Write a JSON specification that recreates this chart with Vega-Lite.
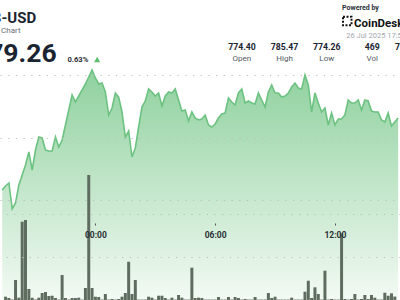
{
  "$schema": "https://vega.github.io/schema/vega-lite/v6.json",
  "width": 400,
  "height": 300,
  "autosize": {"type": "none"},
  "padding": 0,
  "background": "#ffffff",
  "config": {"view": {"stroke": null}, "text": {"font": "Roboto"}},
  "datasets": {
    "price": [
      {"t": "2025-07-25T19:20Z", "p": 775.80}, {"t": "2025-07-25T19:30Z", "p": 776.12}, {"t": "2025-07-25T19:40Z", "p": 776.36}, {"t": "2025-07-25T19:50Z", "p": 774.30},
      {"t": "2025-07-25T20:00Z", "p": 774.76}, {"t": "2025-07-25T20:10Z", "p": 776.20}, {"t": "2025-07-25T20:20Z", "p": 777.00}, {"t": "2025-07-25T20:30Z", "p": 777.80},
      {"t": "2025-07-25T20:40Z", "p": 778.84}, {"t": "2025-07-25T20:50Z", "p": 777.40}, {"t": "2025-07-25T21:00Z", "p": 779.00}, {"t": "2025-07-25T21:10Z", "p": 780.04},
      {"t": "2025-07-25T21:20Z", "p": 779.96}, {"t": "2025-07-25T21:30Z", "p": 779.00}, {"t": "2025-07-25T21:40Z", "p": 778.92}, {"t": "2025-07-25T21:50Z", "p": 778.92},
      {"t": "2025-07-25T22:00Z", "p": 780.04}, {"t": "2025-07-25T22:10Z", "p": 779.24}, {"t": "2025-07-25T22:20Z", "p": 779.80}, {"t": "2025-07-25T22:30Z", "p": 781.00},
      {"t": "2025-07-25T22:40Z", "p": 782.20}, {"t": "2025-07-25T22:50Z", "p": 783.40}, {"t": "2025-07-25T23:00Z", "p": 782.84}, {"t": "2025-07-25T23:10Z", "p": 783.32},
      {"t": "2025-07-25T23:20Z", "p": 783.80}, {"t": "2025-07-25T23:30Z", "p": 784.28}, {"t": "2025-07-25T23:40Z", "p": 784.84}, {"t": "2025-07-25T23:50Z", "p": 785.40},
      {"t": "2025-07-26T00:00Z", "p": 784.76}, {"t": "2025-07-26T00:10Z", "p": 784.28}, {"t": "2025-07-26T00:20Z", "p": 784.36}, {"t": "2025-07-26T00:30Z", "p": 783.64},
      {"t": "2025-07-26T00:40Z", "p": 781.80}, {"t": "2025-07-26T00:50Z", "p": 782.36}, {"t": "2025-07-26T01:00Z", "p": 783.56}, {"t": "2025-07-26T01:10Z", "p": 783.24},
      {"t": "2025-07-26T01:20Z", "p": 782.04}, {"t": "2025-07-26T01:30Z", "p": 780.04}, {"t": "2025-07-26T01:40Z", "p": 780.52}, {"t": "2025-07-26T01:50Z", "p": 778.44},
      {"t": "2025-07-26T02:00Z", "p": 779.16}, {"t": "2025-07-26T02:10Z", "p": 780.84}, {"t": "2025-07-26T02:20Z", "p": 782.44}, {"t": "2025-07-26T02:30Z", "p": 782.92},
      {"t": "2025-07-26T02:40Z", "p": 783.88}, {"t": "2025-07-26T02:50Z", "p": 783.64}, {"t": "2025-07-26T03:00Z", "p": 783.32}, {"t": "2025-07-26T03:10Z", "p": 783.56},
      {"t": "2025-07-26T03:20Z", "p": 782.52}, {"t": "2025-07-26T03:30Z", "p": 783.32}, {"t": "2025-07-26T03:40Z", "p": 783.64}, {"t": "2025-07-26T03:50Z", "p": 783.56},
      {"t": "2025-07-26T04:00Z", "p": 783.88}, {"t": "2025-07-26T04:10Z", "p": 783.00}, {"t": "2025-07-26T04:20Z", "p": 782.12}, {"t": "2025-07-26T04:30Z", "p": 782.20},
      {"t": "2025-07-26T04:40Z", "p": 781.32}, {"t": "2025-07-26T04:50Z", "p": 782.04}, {"t": "2025-07-26T05:00Z", "p": 781.56}, {"t": "2025-07-26T05:10Z", "p": 781.40},
      {"t": "2025-07-26T05:20Z", "p": 781.48}, {"t": "2025-07-26T05:30Z", "p": 781.80}, {"t": "2025-07-26T05:40Z", "p": 781.00}, {"t": "2025-07-26T05:50Z", "p": 780.84},
      {"t": "2025-07-26T06:00Z", "p": 781.08}, {"t": "2025-07-26T06:10Z", "p": 781.56}, {"t": "2025-07-26T06:20Z", "p": 781.88}, {"t": "2025-07-26T06:30Z", "p": 781.96},
      {"t": "2025-07-26T06:40Z", "p": 783.16}, {"t": "2025-07-26T06:50Z", "p": 782.84}, {"t": "2025-07-26T07:00Z", "p": 782.60}, {"t": "2025-07-26T07:10Z", "p": 783.56},
      {"t": "2025-07-26T07:20Z", "p": 783.88}, {"t": "2025-07-26T07:30Z", "p": 782.76}, {"t": "2025-07-26T07:40Z", "p": 782.92}, {"t": "2025-07-26T07:50Z", "p": 782.76},
      {"t": "2025-07-26T08:00Z", "p": 782.68}, {"t": "2025-07-26T08:10Z", "p": 783.56}, {"t": "2025-07-26T08:20Z", "p": 783.00}, {"t": "2025-07-26T08:30Z", "p": 782.44},
      {"t": "2025-07-26T08:40Z", "p": 783.64}, {"t": "2025-07-26T08:50Z", "p": 784.20}, {"t": "2025-07-26T09:00Z", "p": 783.56}, {"t": "2025-07-26T09:10Z", "p": 783.56},
      {"t": "2025-07-26T09:20Z", "p": 783.24}, {"t": "2025-07-26T09:30Z", "p": 783.32}, {"t": "2025-07-26T09:40Z", "p": 783.56}, {"t": "2025-07-26T09:50Z", "p": 784.04},
      {"t": "2025-07-26T10:00Z", "p": 784.36}, {"t": "2025-07-26T10:10Z", "p": 783.96}, {"t": "2025-07-26T10:20Z", "p": 783.88}, {"t": "2025-07-26T10:30Z", "p": 785.00},
      {"t": "2025-07-26T10:40Z", "p": 784.20}, {"t": "2025-07-26T10:50Z", "p": 782.04}, {"t": "2025-07-26T11:00Z", "p": 783.56}, {"t": "2025-07-26T11:10Z", "p": 782.76},
      {"t": "2025-07-26T11:20Z", "p": 782.04}, {"t": "2025-07-26T11:30Z", "p": 782.36}, {"t": "2025-07-26T11:40Z", "p": 781.00}, {"t": "2025-07-26T11:50Z", "p": 781.96},
      {"t": "2025-07-26T12:00Z", "p": 781.00}, {"t": "2025-07-26T12:10Z", "p": 781.48}, {"t": "2025-07-26T12:20Z", "p": 781.48}, {"t": "2025-07-26T12:30Z", "p": 781.80},
      {"t": "2025-07-26T12:40Z", "p": 783.00}, {"t": "2025-07-26T12:50Z", "p": 782.76}, {"t": "2025-07-26T13:00Z", "p": 782.76}, {"t": "2025-07-26T13:10Z", "p": 783.00},
      {"t": "2025-07-26T13:20Z", "p": 782.20}, {"t": "2025-07-26T13:30Z", "p": 783.00}, {"t": "2025-07-26T13:40Z", "p": 782.92}, {"t": "2025-07-26T13:50Z", "p": 782.12},
      {"t": "2025-07-26T14:00Z", "p": 782.04}, {"t": "2025-07-26T14:10Z", "p": 782.04}, {"t": "2025-07-26T14:20Z", "p": 781.40}, {"t": "2025-07-26T14:30Z", "p": 781.24},
      {"t": "2025-07-26T14:40Z", "p": 781.96}, {"t": "2025-07-26T14:50Z", "p": 780.92}, {"t": "2025-07-26T15:00Z", "p": 781.24}, {"t": "2025-07-26T15:10Z", "p": 781.56}
    ],
    "vol": [
      {"t": "2025-07-25T19:30Z", "v": 0.77}, {"t": "2025-07-25T19:40Z", "v": 0.47}, {"t": "2025-07-25T19:50Z", "v": 0.1}, {"t": "2025-07-25T20:00Z", "v": 4.67},
      {"t": "2025-07-25T20:10Z", "v": 0.54}, {"t": "2025-07-25T20:20Z", "v": 18.27}, {"t": "2025-07-25T20:30Z", "v": 18.67}, {"t": "2025-07-25T20:40Z", "v": 2.57},
      {"t": "2025-07-25T20:50Z", "v": 0.54}, {"t": "2025-07-25T21:00Z", "v": 0.1}, {"t": "2025-07-25T21:10Z", "v": 0.54}, {"t": "2025-07-25T21:20Z", "v": 1.63},
      {"t": "2025-07-25T21:30Z", "v": 1.87}, {"t": "2025-07-25T21:40Z", "v": 0.93}, {"t": "2025-07-25T21:50Z", "v": 1.0}, {"t": "2025-07-25T22:00Z", "v": 0.47},
      {"t": "2025-07-25T22:10Z", "v": 0.1}, {"t": "2025-07-25T22:20Z", "v": 5.83}, {"t": "2025-07-25T22:30Z", "v": 0.47}, {"t": "2025-07-25T22:40Z", "v": 0.1},
      {"t": "2025-07-25T22:50Z", "v": 0.47}, {"t": "2025-07-25T23:00Z", "v": 0.47}, {"t": "2025-07-25T23:10Z", "v": 0.54}, {"t": "2025-07-25T23:20Z", "v": 0.1},
      {"t": "2025-07-25T23:30Z", "v": 2.8}, {"t": "2025-07-25T23:40Z", "v": 29.17}, {"t": "2025-07-25T23:50Z", "v": 2.8}, {"t": "2025-07-26T00:00Z", "v": 0.77},
      {"t": "2025-07-26T00:10Z", "v": 0.7}, {"t": "2025-07-26T00:20Z", "v": 0.1}, {"t": "2025-07-26T00:30Z", "v": 1.4}, {"t": "2025-07-26T00:40Z", "v": 0.1},
      {"t": "2025-07-26T00:50Z", "v": 0.23}, {"t": "2025-07-26T01:00Z", "v": 0.1}, {"t": "2025-07-26T01:10Z", "v": 0.23}, {"t": "2025-07-26T01:20Z", "v": 0.77},
      {"t": "2025-07-26T01:30Z", "v": 1.63}, {"t": "2025-07-26T01:40Z", "v": 8.94}, {"t": "2025-07-26T01:50Z", "v": 1.4}, {"t": "2025-07-26T02:00Z", "v": 4.67},
      {"t": "2025-07-26T02:10Z", "v": 0.1}, {"t": "2025-07-26T02:20Z", "v": 0.1}, {"t": "2025-07-26T02:30Z", "v": 0.1}, {"t": "2025-07-26T02:40Z", "v": 0.77},
      {"t": "2025-07-26T02:50Z", "v": 0.54}, {"t": "2025-07-26T03:00Z", "v": 0.1}, {"t": "2025-07-26T03:10Z", "v": 1.0}, {"t": "2025-07-26T03:20Z", "v": 1.0},
      {"t": "2025-07-26T03:30Z", "v": 0.47}, {"t": "2025-07-26T03:40Z", "v": 0.1}, {"t": "2025-07-26T03:50Z", "v": 0.54}, {"t": "2025-07-26T04:00Z", "v": 0.1},
      {"t": "2025-07-26T04:10Z", "v": 1.17}, {"t": "2025-07-26T04:20Z", "v": 0.54}, {"t": "2025-07-26T04:30Z", "v": 0.1}, {"t": "2025-07-26T04:40Z", "v": 0.1},
      {"t": "2025-07-26T04:50Z", "v": 7.54}, {"t": "2025-07-26T05:00Z", "v": 0.47}, {"t": "2025-07-26T05:10Z", "v": 0.54}, {"t": "2025-07-26T05:20Z", "v": 0.47},
      {"t": "2025-07-26T05:30Z", "v": 0.1}, {"t": "2025-07-26T05:40Z", "v": 0.1}, {"t": "2025-07-26T05:50Z", "v": 0.1}, {"t": "2025-07-26T06:00Z", "v": 0.1},
      {"t": "2025-07-26T06:10Z", "v": 0.7}, {"t": "2025-07-26T06:20Z", "v": 0.1}, {"t": "2025-07-26T06:30Z", "v": 0.1}, {"t": "2025-07-26T06:40Z", "v": 0.7},
      {"t": "2025-07-26T06:50Z", "v": 0.1}, {"t": "2025-07-26T07:00Z", "v": 0.7}, {"t": "2025-07-26T07:10Z", "v": 0.47}, {"t": "2025-07-26T07:20Z", "v": 0.1},
      {"t": "2025-07-26T07:30Z", "v": 0.23}, {"t": "2025-07-26T07:40Z", "v": 0.1}, {"t": "2025-07-26T07:50Z", "v": 0.1}, {"t": "2025-07-26T08:00Z", "v": 0.7},
      {"t": "2025-07-26T08:10Z", "v": 0.1}, {"t": "2025-07-26T08:20Z", "v": 0.1}, {"t": "2025-07-26T08:30Z", "v": 0.1}, {"t": "2025-07-26T08:40Z", "v": 1.63},
      {"t": "2025-07-26T08:50Z", "v": 0.47}, {"t": "2025-07-26T09:00Z", "v": 0.77}, {"t": "2025-07-26T09:10Z", "v": 0.1}, {"t": "2025-07-26T09:20Z", "v": 0.1},
      {"t": "2025-07-26T09:30Z", "v": 0.1}, {"t": "2025-07-26T09:40Z", "v": 0.1}, {"t": "2025-07-26T09:50Z", "v": 0.54}, {"t": "2025-07-26T10:00Z", "v": 0.1},
      {"t": "2025-07-26T10:10Z", "v": 0.1}, {"t": "2025-07-26T10:20Z", "v": 0.1}, {"t": "2025-07-26T10:30Z", "v": 1.94}, {"t": "2025-07-26T10:40Z", "v": 4.5},
      {"t": "2025-07-26T10:50Z", "v": 0.47}, {"t": "2025-07-26T11:00Z", "v": 2.96}, {"t": "2025-07-26T11:10Z", "v": 1.4}, {"t": "2025-07-26T11:20Z", "v": 0.1},
      {"t": "2025-07-26T11:30Z", "v": 6.84}, {"t": "2025-07-26T11:40Z", "v": 0.1}, {"t": "2025-07-26T11:50Z", "v": 0.23}, {"t": "2025-07-26T12:00Z", "v": 0.1},
      {"t": "2025-07-26T12:10Z", "v": 0.1}, {"t": "2025-07-26T12:20Z", "v": 15.5}, {"t": "2025-07-26T12:30Z", "v": 0.23}, {"t": "2025-07-26T12:40Z", "v": 0.1},
      {"t": "2025-07-26T12:50Z", "v": 0.23}, {"t": "2025-07-26T13:00Z", "v": 1.4}, {"t": "2025-07-26T13:10Z", "v": 0.1}, {"t": "2025-07-26T13:20Z", "v": 0.23},
      {"t": "2025-07-26T13:30Z", "v": 1.17}, {"t": "2025-07-26T13:40Z", "v": 0.23}, {"t": "2025-07-26T13:50Z", "v": 1.17}, {"t": "2025-07-26T14:00Z", "v": 0.54},
      {"t": "2025-07-26T14:10Z", "v": 0.1}, {"t": "2025-07-26T14:20Z", "v": 0.1}, {"t": "2025-07-26T14:30Z", "v": 1.7}, {"t": "2025-07-26T14:40Z", "v": 1.0},
      {"t": "2025-07-26T14:50Z", "v": 1.56}, {"t": "2025-07-26T15:00Z", "v": 0.8}
    ]
  },
  "layer": [
    {
      "layer": [
        {
          "data": {"name": "price"},
          "mark": {
            "type": "area",
            "clip": true,
            "color": {"gradient": "linear", "x1": 0, "y1": 0, "x2": 0, "y2": 1, "stops": [{"offset": 0, "color": "#8fd19e"}, {"offset": 1, "color": "#f3faf4"}]},
            "fillOpacity": 1
          },
          "encoding": {
            "x": {
              "field": "t", "type": "temporal",
              "scale": {"type": "utc", "domain": [{"year": 2025, "month": 7, "date": 25, "hours": 19, "minutes": 28, "seconds": 18, "utc": true}, {"year": 2025, "month": 7, "date": 26, "hours": 15, "minutes": 0, "seconds": 36, "utc": true}]},
              "axis": {
                "values": [{"year": 2025, "month": 7, "date": 26, "hours": 0, "utc": true}, {"year": 2025, "month": 7, "date": 26, "hours": 6, "utc": true}, {"year": 2025, "month": 7, "date": 26, "hours": 12, "utc": true}],
                "format": "%H:%M", "orient": "bottom", "offset": -77, "grid": false, "domain": false,
                "tickSize": 2, "tickColor": "#555555", "tickWidth": 1, "labelPadding": 5,
                "labelFont": "Roboto", "labelFontSize": 8.5, "labelFontWeight": "bold", "labelColor": "#2b2f36",
                "labelFlush": false, "labelOverlap": false, "title": null, "zindex": 1
              }
            },
            "y": {
              "field": "p", "type": "quantitative",
              "scale": {"domain": [767, 791], "nice": false, "zero": false},
              "axis": {"values": [775, 780, 785], "grid": true, "gridColor": "#bdbdbd", "gridDash": [1.2, 6.5], "gridWidth": 1, "labels": false, "ticks": false, "domain": false, "title": null, "zindex": 1}
            },
            "y2": {"datum": 767}
          }
        },
        {
          "data": {"name": "price"},
          "mark": {"type": "line", "clip": true, "color": "#6cc281", "strokeWidth": 1.6},
          "encoding": {
            "x": {"field": "t", "type": "temporal"},
            "y": {"field": "p", "type": "quantitative"}
          }
        },
        {
          "data": {"values": [{}]},
          "mark": {"type": "text", "text": "BNB-USD", "align": "right", "baseline": "alphabetic", "fontSize": 15, "fontWeight": "bold", "color": "#1b2431"},
          "encoding": {"x": {"datum": {"year": 2025, "month": 7, "date": 25, "hours": 21, "minutes": 2, "seconds": 5, "utc": true}, "type": "temporal"}, "y": {"datum": 789.16, "type": "quantitative"}}
        },
        {
          "data": {"values": [{}]},
          "mark": {"type": "text", "text": "Price Chart", "align": "right", "baseline": "alphabetic", "fontSize": 8, "color": "#6b6f76"},
          "encoding": {"x": {"datum": {"year": 2025, "month": 7, "date": 25, "hours": 20, "minutes": 15, "seconds": 12, "utc": true}, "type": "temporal"}, "y": {"datum": 788.38, "type": "quantitative"}}
        },
        {
          "data": {"values": [{}]},
          "mark": {"type": "text", "text": "779.26", "align": "right", "baseline": "alphabetic", "fontSize": 26.5, "fontWeight": "bold", "color": "#1b2431"},
          "encoding": {"x": {"datum": {"year": 2025, "month": 7, "date": 25, "hours": 22, "minutes": 3, "seconds": 38, "utc": true}, "type": "temporal"}, "y": {"datum": 786.04, "type": "quantitative"}}
        },
        {
          "data": {"values": [{}]},
          "mark": {"type": "text", "text": "0.63%", "align": "left", "baseline": "alphabetic", "fontSize": 7.6, "fontWeight": "bold", "color": "#2b2f36"},
          "encoding": {"x": {"datum": {"year": 2025, "month": 7, "date": 25, "hours": 22, "minutes": 35, "seconds": 53, "utc": true}, "type": "temporal"}, "y": {"datum": 786.04, "type": "quantitative"}}
        },
        {
          "data": {"values": [{}]},
          "mark": {"type": "point", "shape": "triangle-up", "filled": true, "opacity": 1, "color": "#5cbf6e", "size": 38},
          "encoding": {"x": {"datum": {"year": 2025, "month": 7, "date": 26, "hours": 0, "minutes": 5, "seconds": 18, "utc": true}, "type": "temporal"}, "y": {"datum": 786.24, "type": "quantitative"}}
        },
        {
          "data": {"values": [{}]},
          "mark": {"type": "text", "text": "Powered by", "align": "left", "baseline": "alphabetic", "fontSize": 7, "fontWeight": "bold", "color": "#2b2f36"},
          "encoding": {"x": {"datum": {"year": 2025, "month": 7, "date": 26, "hours": 12, "minutes": 21, "seconds": 36, "utc": true}, "type": "temporal"}, "y": {"datum": 790.22, "type": "quantitative"}}
        },
        {
          "data": {"values": [{}]},
          "mark": {"type": "point", "shape": "square", "filled": false, "opacity": 1, "color": "#111111", "strokeWidth": 2, "strokeDash": [2, 1.5], "size": 72},
          "encoding": {"x": {"datum": {"year": 2025, "month": 7, "date": 26, "hours": 12, "minutes": 37, "seconds": 6, "utc": true}, "type": "temporal"}, "y": {"datum": 789.32, "type": "quantitative"}}
        },
        {
          "data": {"values": [{}]},
          "mark": {"type": "text", "text": "CoinDesk", "align": "left", "baseline": "alphabetic", "fontSize": 11.5, "fontWeight": "bold", "color": "#111111"},
          "encoding": {"x": {"datum": {"year": 2025, "month": 7, "date": 26, "hours": 12, "minutes": 57, "seconds": 36, "utc": true}, "type": "temporal"}, "y": {"datum": 788.88, "type": "quantitative"}}
        },
        {
          "data": {"values": [{}]},
          "mark": {"type": "text", "text": "26 Jul 2025 17:50 UTC", "align": "left", "baseline": "alphabetic", "fontSize": 7.5, "color": "#a3a7ad"},
          "encoding": {"x": {"datum": {"year": 2025, "month": 7, "date": 26, "hours": 12, "minutes": 34, "seconds": 12, "utc": true}, "type": "temporal"}, "y": {"datum": 787.96, "type": "quantitative"}}
        },
        {
          "data": {"values": [{}]},
          "mark": {"type": "text", "text": "774.40", "align": "center", "baseline": "alphabetic", "fontSize": 8.7, "fontWeight": "bold", "color": "#1b2431"},
          "encoding": {"x": {"datum": {"year": 2025, "month": 7, "date": 26, "hours": 7, "minutes": 20, "seconds": 30, "utc": true}, "type": "temporal"}, "y": {"datum": 786.98, "type": "quantitative"}}
        },
        {
          "data": {"values": [{}]},
          "mark": {"type": "text", "text": "Open", "align": "center", "baseline": "alphabetic", "fontSize": 8, "color": "#555a61"},
          "encoding": {"x": {"datum": {"year": 2025, "month": 7, "date": 26, "hours": 7, "minutes": 20, "seconds": 30, "utc": true}, "type": "temporal"}, "y": {"datum": 786.16, "type": "quantitative"}}
        },
        {
          "data": {"values": [{}]},
          "mark": {"type": "text", "text": "785.47", "align": "center", "baseline": "alphabetic", "fontSize": 8.7, "fontWeight": "bold", "color": "#1b2431"},
          "encoding": {"x": {"datum": {"year": 2025, "month": 7, "date": 26, "hours": 9, "minutes": 28, "seconds": 36, "utc": true}, "type": "temporal"}, "y": {"datum": 786.98, "type": "quantitative"}}
        },
        {
          "data": {"values": [{}]},
          "mark": {"type": "text", "text": "High", "align": "center", "baseline": "alphabetic", "fontSize": 8, "color": "#555a61"},
          "encoding": {"x": {"datum": {"year": 2025, "month": 7, "date": 26, "hours": 9, "minutes": 28, "seconds": 36, "utc": true}, "type": "temporal"}, "y": {"datum": 786.16, "type": "quantitative"}}
        },
        {
          "data": {"values": [{}]},
          "mark": {"type": "text", "text": "774.26", "align": "center", "baseline": "alphabetic", "fontSize": 8.7, "fontWeight": "bold", "color": "#1b2431"},
          "encoding": {"x": {"datum": {"year": 2025, "month": 7, "date": 26, "hours": 11, "minutes": 35, "seconds": 30, "utc": true}, "type": "temporal"}, "y": {"datum": 786.98, "type": "quantitative"}}
        },
        {
          "data": {"values": [{}]},
          "mark": {"type": "text", "text": "Low", "align": "center", "baseline": "alphabetic", "fontSize": 8, "color": "#555a61"},
          "encoding": {"x": {"datum": {"year": 2025, "month": 7, "date": 26, "hours": 11, "minutes": 35, "seconds": 30, "utc": true}, "type": "temporal"}, "y": {"datum": 786.16, "type": "quantitative"}}
        },
        {
          "data": {"values": [{}]},
          "mark": {"type": "text", "text": "469", "align": "center", "baseline": "alphabetic", "fontSize": 8.7, "fontWeight": "bold", "color": "#1b2431"},
          "encoding": {"x": {"datum": {"year": 2025, "month": 7, "date": 26, "hours": 13, "minutes": 52, "seconds": 24, "utc": true}, "type": "temporal"}, "y": {"datum": 786.98, "type": "quantitative"}}
        },
        {
          "data": {"values": [{}]},
          "mark": {"type": "text", "text": "Vol", "align": "center", "baseline": "alphabetic", "fontSize": 8, "color": "#555a61"},
          "encoding": {"x": {"datum": {"year": 2025, "month": 7, "date": 26, "hours": 13, "minutes": 52, "seconds": 24, "utc": true}, "type": "temporal"}, "y": {"datum": 786.16, "type": "quantitative"}}
        },
        {
          "data": {"values": [{}]},
          "mark": {"type": "text", "text": "779.26", "align": "center", "baseline": "alphabetic", "fontSize": 8.7, "fontWeight": "bold", "color": "#1b2431"},
          "encoding": {"x": {"datum": {"year": 2025, "month": 7, "date": 26, "hours": 15, "minutes": 41, "seconds": 42, "utc": true}, "type": "temporal"}, "y": {"datum": 786.98, "type": "quantitative"}}
        }
      ]
    },
    {
      "data": {"name": "vol"},
      "mark": {"type": "bar", "size": 3, "color": "#5f6d60", "clip": true},
      "encoding": {
        "x": {"field": "t", "type": "temporal"},
        "y": {
          "field": "v", "type": "quantitative",
          "scale": {"domain": [0, 70], "nice": false},
          "axis": {"values": [10, 20], "grid": true, "gridColor": "#bdbdbd", "gridDash": [1.2, 6.5], "gridWidth": 1, "labels": false, "ticks": false, "domain": false, "title": null, "zindex": 1}
        }
      }
    }
  ],
  "resolve": {"scale": {"y": "independent"}}
}
